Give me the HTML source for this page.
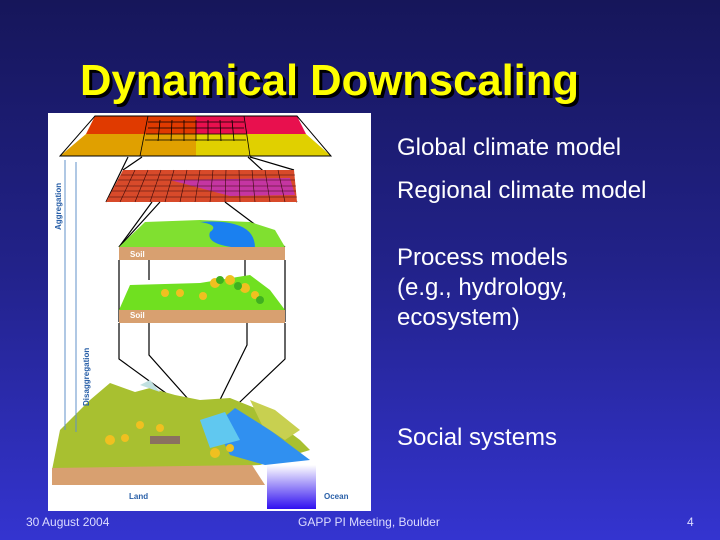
<!DOCTYPE html>
<html><head><style>
html,body{margin:0;padding:0}
body{width:720px;height:540px;overflow:hidden;position:relative;background:linear-gradient(180deg,#16165a 0%,#22228a 50%,#3434d0 100%);font-family:"Liberation Sans",sans-serif}
.t{position:absolute;color:#fff;font-size:24px;line-height:30px}
.title{position:absolute;left:80px;top:57px;font-size:43.6px;font-weight:bold;color:#ffff00;text-shadow:3px 3px 0 #000;white-space:nowrap}
.f{position:absolute;top:515px;font-size:12px;color:#dcdcff}
</style></head><body>
<div class="title">Dynamical Downscaling</div>
<svg style="position:absolute;left:48px;top:113px" width="323" height="398" viewBox="48 113 323 398">
<rect x="48" y="113" width="323" height="398" fill="#fff"/>
<polygon points="95,116 196,116 196,134 86,134" fill="#e03a00"/>
<polygon points="196,116 297,116 306,134 196,134" fill="#e8104e"/>
<polygon points="86,134 196,134 196,156 60,156" fill="#e0a000"/>
<polygon points="196,134 306,134 331,156 196,156" fill="#e0d000"/>
<polygon points="95,116 297,116 331,156 60,156" fill="none" stroke="#000" stroke-width="1"/>
<g stroke="#000" stroke-width="0.8">
<line x1="148" y1="116" x2="140" y2="156"/><line x1="244" y1="116" x2="250" y2="156"/>
<line x1="148" y1="122" x2="244" y2="122"/><line x1="148" y1="128" x2="244" y2="128"/><line x1="146" y1="134" x2="246" y2="134"/><line x1="145" y1="140" x2="246" y2="140"/>
<line x1="160" y1="120" x2="158" y2="141"/><line x1="172" y1="120" x2="171" y2="141"/><line x1="184" y1="120" x2="184" y2="141"/><line x1="196" y1="120" x2="196" y2="141"/><line x1="208" y1="120" x2="208" y2="141"/><line x1="220" y1="120" x2="221" y2="141"/><line x1="232" y1="120" x2="234" y2="141"/>
</g>
<g stroke="#000" stroke-width="1.2" fill="none">
<line x1="142" y1="157" x2="123" y2="170"/><line x1="250" y1="157" x2="294" y2="170"/>
<line x1="128" y1="157" x2="106" y2="202"/><line x1="248" y1="157" x2="297" y2="202"/>
</g>
<polygon points="123,170 294,170 297,202 106,202" fill="#d84a2a"/>
<polygon points="170,180 290,178 295,195 230,196" fill="#c030c0" opacity="0.8"/>
<g stroke="#3a0a0a" stroke-width="0.6">
<line x1="121" y1="175" x2="295" y2="175"/><line x1="118" y1="180" x2="295" y2="180"/><line x1="115" y1="186" x2="296" y2="186"/><line x1="112" y1="191" x2="296" y2="191"/><line x1="109" y1="197" x2="297" y2="197"/>
<line x1="135" y1="170" x2="120" y2="202"/><line x1="148" y1="170" x2="135" y2="202"/><line x1="161" y1="170" x2="150" y2="202"/><line x1="174" y1="170" x2="165" y2="202"/><line x1="187" y1="170" x2="180" y2="202"/><line x1="200" y1="170" x2="195" y2="202"/><line x1="213" y1="170" x2="210" y2="202"/><line x1="226" y1="170" x2="225" y2="202"/><line x1="239" y1="170" x2="240" y2="202"/><line x1="252" y1="170" x2="255" y2="202"/><line x1="265" y1="170" x2="270" y2="202"/><line x1="278" y1="170" x2="285" y2="202"/>
</g>
<g stroke="#000" stroke-width="1.2" fill="none">
<line x1="160" y1="202" x2="119" y2="247"/><line x1="225" y1="202" x2="285" y2="247"/>
<line x1="152" y1="202" x2="119" y2="247"/>
</g>
<polygon points="145,222 200,220 250,222 275,230 285,247 119,247" fill="#80e030"/>
<path d="M200,222 Q220,225 210,232 Q205,245 240,248 L255,248 Q255,232 240,226 Q225,220 200,222Z" fill="#1a80f0"/>
<rect x="119" y="247" width="166" height="13" fill="#d8a070"/>
<text x="130" y="257" font-size="8" font-weight="bold" fill="#fff" font-family="Liberation Sans">Soil</text>
<g stroke="#000" stroke-width="1.2" fill="none">
<line x1="119" y1="260" x2="119" y2="322"/><line x1="285" y1="260" x2="285" y2="322"/>
<line x1="149" y1="260" x2="149" y2="280"/><line x1="245" y1="260" x2="245" y2="280"/>
</g>
<polygon points="130,285 200,283 250,275 270,290 285,310 119,310" fill="#70e020"/>
<g fill="#f0c020"><circle cx="165" cy="293" r="4"/><circle cx="180" cy="293" r="4"/><circle cx="215" cy="283" r="5"/><circle cx="230" cy="280" r="5"/><circle cx="245" cy="288" r="5"/><circle cx="255" cy="295" r="4"/><circle cx="203" cy="296" r="4"/></g>
<g fill="#40b020"><circle cx="220" cy="280" r="4"/><circle cx="238" cy="286" r="4"/><circle cx="260" cy="300" r="4"/></g>
<rect x="119" y="310" width="166" height="13" fill="#d8a070"/>
<text x="130" y="318" font-size="8" font-weight="bold" fill="#fff" font-family="Liberation Sans">Soil</text>
<g stroke="#000" stroke-width="1.2" fill="none">
<polyline points="119,323 119,359 192,412"/><polyline points="285,323 285,359 221,420"/>
<polyline points="149,323 149,355 205,418"/><polyline points="247,323 247,345 214,412"/>
</g>
<polygon points="52,470 60,430 90,400 110,383 135,392 150,388 175,395 200,400 230,398 260,410 300,440 310,450 260,465 52,475" fill="#a8c030"/>
<polygon points="140,385 150,380 160,392" fill="#c0e0e0"/>
<polygon points="215,425 235,408 270,430 310,460 265,465 230,455" fill="#3090f0"/>
<polygon points="200,420 225,412 240,440 210,448" fill="#60c8f0"/>
<polygon points="250,400 275,410 300,430 285,440 262,425" fill="#c8d050"/>
<g fill="#f0c020"><circle cx="110" cy="440" r="5"/><circle cx="125" cy="438" r="4"/><circle cx="140" cy="425" r="4"/><circle cx="215" cy="453" r="5"/><circle cx="230" cy="448" r="4"/><circle cx="160" cy="428" r="4"/></g>
<rect x="150" y="436" width="30" height="8" fill="#8a7060"/>
<polygon points="52,468 252,465 265,485 52,485" fill="#d8a070"/>
<defs><linearGradient id="oc" x1="0" y1="0" x2="0" y2="1"><stop offset="0" stop-color="#fff"/><stop offset="1" stop-color="#3010f0"/></linearGradient></defs>
<rect x="267" y="465" width="49" height="44" fill="url(#oc)"/>
<text x="129" y="499" font-size="8" font-weight="bold" fill="#2a60a8" font-family="Liberation Sans">Land</text>
<text x="324" y="499" font-size="8" font-weight="bold" fill="#2a60a8" font-family="Liberation Sans">Ocean</text>
<line x1="65" y1="160" x2="65" y2="430" stroke="#6090c8" stroke-width="1"/>
<line x1="76" y1="162" x2="76" y2="432" stroke="#6090c8" stroke-width="1"/>
<text transform="translate(61,230) rotate(-90)" font-size="8" font-weight="bold" fill="#2a60a8" font-family="Liberation Sans">Aggregation</text>
<text transform="translate(89,406) rotate(-90)" font-size="8" font-weight="bold" fill="#2a60a8" font-family="Liberation Sans">Disaggregation</text>
</svg>
<div class="t" style="left:397px;top:133px">Global climate model</div>
<div class="t" style="left:397px;top:176px">Regional climate model</div>
<div class="t" style="left:397px;top:243px">Process models<br>(e.g., hydrology,<br>ecosystem)</div>
<div class="t" style="left:397px;top:423px">Social systems</div>
<div class="f" style="left:26px">30 August 2004</div>
<div class="f" style="left:298px">GAPP PI Meeting, Boulder</div>
<div class="f" style="left:687px">4</div>
</body></html>
